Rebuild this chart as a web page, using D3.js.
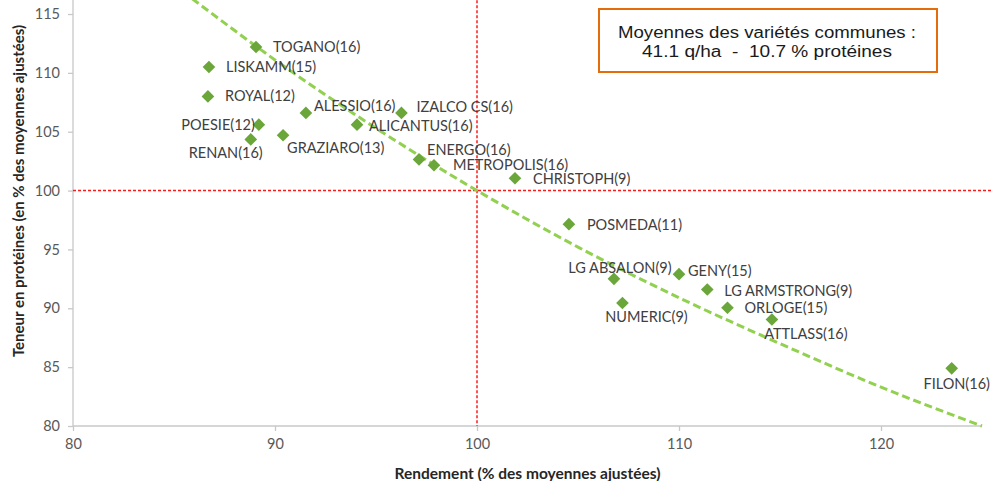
<!DOCTYPE html>
<html><head><meta charset="utf-8">
<script src="https://cdn.jsdelivr.net/npm/d3@7"></script>
<style>
html,body{margin:0;padding:0;background:#fff;overflow:hidden;}
svg{display:block;}
</style></head>
<body>
<svg id="chart" width="993" height="481"></svg>
<script>
// ---- data ----
const varieties = ["TOGANO(16)","LISKAMM(15)","ROYAL(12)","ALESSIO(16)","IZALCO CS(16)","POESIE(12)","ALICANTUS(16)","RENAN(16)","GRAZIARO(13)","ENERGO(16)","METROPOLIS(16)","CHRISTOPH(9)","POSMEDA(11)","LG ABSALON(9)","GENY(15)","LG ARMSTRONG(9)","NUMERIC(9)","ORLOGE(15)","ATTLASS(16)","FILON(16)"];
const rendement = [89.06,86.73,86.68,91.53,96.26,89.2,94.06,88.8,90.4,97.13,97.87,101.88,104.55,106.78,110.0,111.4,107.2,112.4,114.6,123.5];
const proteines = [112.2,110.5,108.0,106.6,106.6,105.6,105.6,104.35,104.7,102.65,102.15,101.05,97.15,92.5,92.9,91.6,90.45,90.05,89.05,84.9];
// trend line (power trendline)
const trendX = [85.9,90,95,100,105,110,115,120,125];
const trendY = [116.3,111.1,105.3,100,95.2,90.9,87.0,83.3,80.0];
const xTicks = [80,90,100,110,120];
const yTicks = [80,85,90,95,100,105,110,115];
const refX = 100, refY = 100;
const boxLines = ["Moyennes des variétés communes :","41.1 q/ha  -  10.7 % protéines"];
const xTitle = "Rendement (% des moyennes ajustées)";
const yTitle = "Teneur en protéines (en % des moyennes ajustées)";

// ---- label placement (style: pixel offsets from the marker) ----
const place = {
 "TOGANO(16)":[17,0,"start"],"LISKAMM(15)":[17,0,"start"],"ROYAL(12)":[17,0,"start"],
 "ALESSIO(16)":[8,-7,"start"],"IZALCO CS(16)":[15,-6,"start"],"POESIE(12)":[-4,0,"end"],
 "ALICANTUS(16)":[12,1,"start"],"RENAN(16)":[-25,14,"middle"],"GRAZIARO(13)":[4,13,"start"],
 "ENERGO(16)":[8,-9,"start"],"METROPOLIS(16)":[19,0,"start"],"CHRISTOPH(9)":[18,1,"start"],
 "POSMEDA(11)":[18,1,"start"],"LG ABSALON(9)":[6,-11,"middle"],"GENY(15)":[9,-3,"start"],
 "LG ARMSTRONG(9)":[17,1,"start"],"NUMERIC(9)":[24,14,"middle"],"ORLOGE(15)":[17,0,"start"],
 "ATTLASS(16)":[34,14,"middle"],"FILON(16)":[5,16,"middle"]
};

const svg = d3.select("#chart");
const x = d3.scaleLinear().domain([80,125]).range([73,982]);
const y = d3.scaleLinear().domain([80,120]).range([426,426-40*11.771]);
const axisColor = "#c8c8c8", tickText = "#595959";
const font = "Lato, 'Open Sans', sans-serif";

// axes
const gx = svg.append("g").attr("transform","translate(0,"+y(80)+")")
  .call(d3.axisBottom(x).tickValues(xTicks).tickSize(5).tickPadding(8));
const gy = svg.append("g").attr("transform","translate("+x(80)+",0)")
  .call(d3.axisLeft(y).tickValues(yTicks).tickSize(5).tickPadding(8));
[gx,gy].forEach(g=>{
  g.select(".domain").attr("stroke",axisColor).attr("stroke-width",1.3);
  g.selectAll(".tick line").attr("stroke",axisColor).attr("stroke-width",1.3);
  g.selectAll(".tick text").attr("fill",tickText).style("font-family",font).style("font-size","14.5px");
});
gy.select(".domain").attr("d","M0,"+y(120)+"V"+y(80));
gx.select(".domain").attr("d","M"+x(80)+",0H"+x(125));

// reference lines
svg.append("line").attr("x1",x(refX)).attr("x2",x(refX)).attr("y1",y(120)).attr("y2",y(80))
  .attr("stroke","#ff1a1a").attr("stroke-width",1.5).attr("stroke-dasharray","3,2");
svg.append("line").attr("x1",x(80)).attr("x2",993).attr("y1",y(refY)).attr("y2",y(refY))
  .attr("stroke","#ff1a1a").attr("stroke-width",1.5).attr("stroke-dasharray","3,2");

// trend line
svg.append("path")
  .datum(trendX.map((v,i)=>[v,trendY[i]]))
  .attr("d",d3.line().curve(d3.curveMonotoneX).x(d=>x(d[0])).y(d=>y(d[1])))
  .attr("fill","none").attr("stroke","#92d050").attr("stroke-width",3).attr("stroke-dasharray","8,4");

// points
const pts = varieties.map((n,i)=>({n, x:rendement[i], y:proteines[i]}));
svg.append("g").selectAll("path").data(pts).join("path")
  .attr("d",d3.symbol().type(d3.symbolSquare).size(80))
  .attr("transform",d=>"translate("+x(d.x)+","+y(d.y)+") rotate(45)")
  .attr("fill","#6aa63a");

// labels
svg.append("g").selectAll("text").data(pts).join("text")
  .attr("x",d=>x(d.x)+place[d.n][0])
  .attr("y",d=>y(d.y)+place[d.n][1])
  .attr("dy","0.35em")
  .attr("text-anchor",d=>place[d.n][2])
  .attr("fill","#404040").style("font-family",font).style("font-size","14.5px")
  .text(d=>d.n);

// axis titles
svg.append("text").attr("x",(x(80)+x(125))/2).attr("y",474).attr("dy","0.35em")
  .attr("text-anchor","middle").attr("fill","#262626")
  .style("font-family",font).style("font-size","15.5px").style("font-weight","bold").text(xTitle);
svg.append("text").attr("transform","translate(19,191) rotate(-90)").attr("dy","0.35em")
  .attr("text-anchor","middle").attr("fill","#262626")
  .style("font-family",font).style("font-size","15px").style("font-weight","bold").text(yTitle);

// info box
svg.append("rect").attr("x",599).attr("y",9).attr("width",338).attr("height",63)
  .attr("fill","#fff").attr("stroke","#e46c0a").attr("stroke-width",2);
svg.append("g").selectAll("text").data(boxLines).join("text")
  .attr("x",767).attr("y",(d,i)=>32+i*19).attr("dy","0.35em").attr("text-anchor","middle")
  .attr("textLength",(d,i)=>i===0?298:250).attr("lengthAdjust","spacingAndGlyphs")
  .style("white-space","pre")
  .attr("fill","#1a1a1a").style("font-family","'Liberation Sans', Arial, sans-serif").style("font-size","16px")
  .text(d=>d);
</script>
</body></html>
